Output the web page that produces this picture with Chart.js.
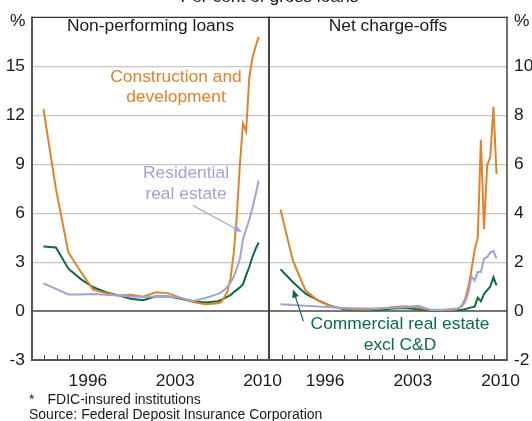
<!DOCTYPE html>
<html><head><meta charset="utf-8">
<script src="https://cdn.jsdelivr.net/npm/chart.js@4.4.1/dist/chart.umd.min.js"></script>
<style>
html,body{margin:0;padding:0;background:#fff;}
#wrap{position:relative;width:532px;height:421px;overflow:hidden;font-family:"Liberation Sans",Arial,sans-serif;color:#1a1a1a;}
canvas{position:absolute;left:0;top:0;}
.t{position:absolute;white-space:nowrap;font-size:17.4px;line-height:20px;}
.c{transform:translateX(-50%);text-align:center;}
.f{position:absolute;white-space:nowrap;font-size:14px;line-height:15px;}
</style></head>
<body><div id="wrap">
<canvas id="c1" width="532" height="421"></canvas>
<canvas id="c2" width="532" height="421"></canvas>
<div class="t c" style="left:269.5px;top:-14px;">Per cent of gross loans</div>
<div class="t" style="right:506.5px;top:9.5px;">%</div>
<div class="t" style="left:514px;top:9.5px;">%</div>
<div class="t c" style="left:150.5px;top:15.2px;">Non-performing loans</div>
<div class="t c" style="left:388px;top:15.2px;">Net charge-offs</div>
<div class="t c" style="left:176px;top:65.7px;color:#E0832B;">Construction and<br>development</div>
<div class="t c" style="left:186px;top:161.8px;line-height:21px;color:#A0A3D8;">Residential<br>real estate</div>
<div class="t c" style="left:400px;top:313.2px;line-height:20.5px;color:#0B6B47;">Commercial real estate<br>excl C&amp;D</div>
<div class="f" style="left:29px;top:392px;">*</div>
<div class="f" style="left:47.5px;top:392px;">FDIC-insured institutions</div>
<div class="f" style="left:29px;top:407px;">Source: Federal Deposit Insurance Corporation</div>
</div>
<script>
// ---- data ----
const periods = ['1992-12','1993-12','1994-12','1995-12','1996-12','1997-12','1998-12','1999-12','2000-12','2001-12','2002-12','2003-12','2004-12','2005-12','2006-12',
  '2007-03','2007-06','2007-09','2007-12','2008-03','2008-06','2008-09','2008-12','2009-03','2009-06','2009-09','2009-12','2010-03'];

// Non-performing loans, per cent
const npConstruction = [12.4,7.5,3.6,2.4,1.3,1.1,0.95,1.0,0.88,1.15,1.1,0.8,0.56,0.42,0.48,
  0.55,0.85,1.2,2.0,3.5,5.8,9.0,11.5,11.0,14.3,15.5,16.2,16.8];
const npResidential = [1.7,1.36,1.02,1.02,1.04,1.0,0.96,0.9,0.86,0.9,0.9,0.82,0.62,0.8,1.05,
  1.15,1.3,1.5,1.75,2.1,2.6,3.2,4.4,5.0,5.6,6.3,7.1,8.0];
const npCommercial = [3.96,3.9,2.6,1.96,1.46,1.16,0.96,0.76,0.66,0.9,0.9,0.76,0.6,0.52,0.6,
  0.68,0.78,0.88,0.98,1.15,1.3,1.45,1.65,2.2,2.7,3.3,3.8,4.2];

// Net charge-offs, per cent
const coConstruction = [4.15,2.05,0.84,0.43,0.2,0.1,0.06,0.06,0.1,0.17,0.2,0.14,0.04,0.03,0.06,
  0.12,0.25,0.5,1.0,1.7,2.5,3.0,7.0,3.35,5.95,6.3,8.35,5.6];
const coResidential = [0.28,0.25,0.22,0.19,0.16,0.13,0.11,0.1,0.11,0.14,0.16,0.22,0.05,0.05,0.1,
  0.13,0.2,0.38,0.75,1.4,1.25,1.6,1.6,2.15,2.2,2.4,2.45,2.15];
const coCommercial = [1.71,1.18,0.71,0.44,0.21,0.08,0.03,0.03,0.05,0.1,0.13,0.07,0.02,0.02,0.03,
  0.03,0.05,0.07,0.12,0.15,0.18,0.55,0.4,0.7,0.85,1.0,1.38,1.05];

const xTickLabels = [1996, 2003, 2010];
const leftYTicks = {min:-3, max:18, step:3};
const rightYTicks = {min:-2, max:12, step:2};

// ---- styling ----
const ORANGE = '#E0832B', LAV = '#A0A3D8', GREEN = '#0B6B47';
const FONT = {family:"'Liberation Sans', Arial, sans-serif", size:17.4};
Chart.defaults.font.family = FONT.family;

const toX = p => { const [y,m] = p.split('-').map(Number); return y + (m-1)/12; };
const pts = vals => periods.map((p,i)=>({x:toX(p), y:vals[i]}));

function ds(vals, color){
  return {data:pts(vals), borderColor:color, borderWidth:2, pointRadius:0, tension:0, fill:false};
}

const framePlugin = {
  id:'frame',
  afterDatasetsDraw(chart, args, opts){
    const {ctx, chartArea:a, scales:{x, y}} = chart;
    ctx.save();
    // inward year tick marks
    ctx.strokeStyle = '#444'; ctx.lineWidth = 1;
    for (let v = x.min + 1; v < x.max; v++){
      const px = Math.round(x.getPixelForValue(v)) + 0.5;
      ctx.beginPath(); ctx.moveTo(px, a.bottom); ctx.lineTo(px, a.bottom - 5); ctx.stroke();
    }
    // frame
    ctx.lineCap = 'square';
    const line = (x1,y1,x2,y2,c,w)=>{ctx.strokeStyle=c;ctx.lineWidth=w;ctx.beginPath();ctx.moveTo(x1,y1);ctx.lineTo(x2,y2);ctx.stroke();};
    line(a.left,a.top,a.right,a.top,'#333',1.3);
    line(a.left,a.top,a.left,a.bottom,opts.leftColor||'#555',opts.leftWidth||2);
    line(a.right,a.top,a.right,a.bottom,'#333',1.4);
    line(a.left,a.bottom,a.right,a.bottom,'#555',2);
    // annotation arrows (given in data coordinates)
    (opts.arrows||[]).forEach(ar=>{
      const x1=x.getPixelForValue(ar.from[0]), y1=y.getPixelForValue(ar.from[1]);
      const x2=x.getPixelForValue(ar.to[0]), y2=y.getPixelForValue(ar.to[1]);
      const ang=Math.atan2(y2-y1,x2-x1), L=8, W=3.5;
      const bx=x2-L*Math.cos(ang), by=y2-L*Math.sin(ang);
      ctx.strokeStyle=ar.color; ctx.fillStyle=ar.color; ctx.lineWidth=1.2;
      ctx.beginPath(); ctx.moveTo(x1,y1); ctx.lineTo(bx,by); ctx.stroke();
      ctx.beginPath(); ctx.moveTo(x2,y2);
      ctx.lineTo(bx+W*Math.sin(ang), by-W*Math.cos(ang));
      ctx.lineTo(bx-W*Math.sin(ang), by+W*Math.cos(ang));
      ctx.closePath(); ctx.fill();
    });
    ctx.restore();
  }
};

function gridColor(ctx, t){
  const v = ctx.tick.value;
  if (v === t.min || v === t.max) return 'rgba(0,0,0,0)';
  return v === 0 ? '#777' : '#c6c6c6';
}

function xScale(){
  return {
    type:'linear', min:1992, max:2011,
    afterFit(s){ s.height = 61; },
    afterBuildTicks(s){ const t=[]; for(let v=1992; v<=2011; v++) t.push({value:v}); s.ticks=t; },
    ticks:{autoSkip:false, maxRotation:0, minRotation:0, labelOffset:6, padding:11, color:'#1a1a1a', font:FONT,
      callback:v => xTickLabels.includes(v) ? String(v) : ''},
    grid:{display:false, drawTicks:false}, border:{display:false}
  };
}

function yScale(t, position, width){
  return {
    position, min:t.min, max:t.max,
    afterFit(s){ s.width = width; },
    afterBuildTicks(s){ const a=[]; for(let v=t.min; v<=t.max; v+=t.step) a.push({value:v}); s.ticks=a; },
    ticks:{padding:7, color:'#1a1a1a', font:FONT, callback:v => v===t.max ? '' : String(v)},
    grid:{drawTicks:false, color:c=>gridColor(c,t), lineWidth:c=>c.tick.value===0?2:1.2},
    border:{display:false}
  };
}

new Chart(document.getElementById('c1'), {
  type:'line',
  data:{datasets:[ds(npResidential,LAV), ds(npConstruction,ORANGE), ds(npCommercial,GREEN)]},
  options:{
    responsive:false, animation:false, events:[],
    layout:{padding:{top:12, right:263, left:0, bottom:0}},
    plugins:{legend:{display:false}, tooltip:{enabled:false},
      frame:{arrows:[{from:[2004.94,6.46], to:[2008.82,4.85], color:LAV}]}},
    scales:{x:xScale(), y:yScale(leftYTicks,'left',32)}
  },
  plugins:[framePlugin]
});

new Chart(document.getElementById('c2'), {
  type:'line',
  data:{datasets:[ds(coResidential,LAV), ds(coConstruction,ORANGE), ds(coCommercial,GREEN)]},
  options:{
    responsive:false, animation:false, events:[],
    layout:{padding:{top:12, right:0, left:269, bottom:0}},
    plugins:{legend:{display:false}, tooltip:{enabled:false},
      frame:{leftColor:'#333', leftWidth:1.4, arrows:[{from:[1994.73,-0.39], to:[1993.92,0.88], color:GREEN}]}},
    scales:{x:xScale(), y:yScale(rightYTicks,'right',25)}
  },
  plugins:[framePlugin]
});
</script>
</body></html>
